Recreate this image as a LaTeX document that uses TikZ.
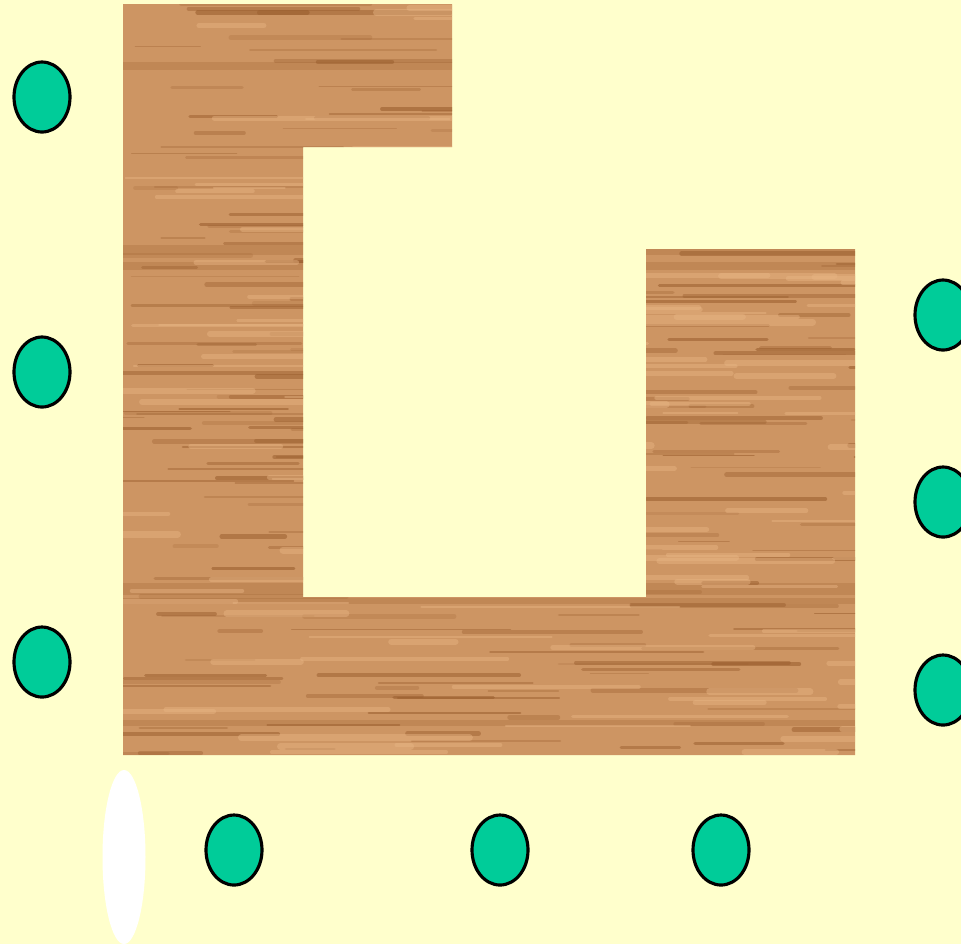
\documentclass[tikz,border=0pt]{standalone}
\definecolor{roomyellow}{HTML}{FFFFCC}
\definecolor{seatgreen}{HTML}{00CC99}
\definecolor{woodbase}{HTML}{CD9563}
\definecolor{wooddark}{HTML}{9A5E2E}
\definecolor{woodlight}{HTML}{E8B584}
\tikzset{
  seat/.style={fill=seatgreen, draw=black, line width=0.9pt},
  grain/.style={line cap=round},
}
\begin{document}
\begin{tikzpicture}[x=0.01cm, y=-0.01cm, line join=round, declare function={rx=28; ry=35;}]
	\fill[roomyellow] (0,0) rectangle (961,944);
	\useasboundingbox (0,0) rectangle (961,944);
	\path (123,4) coordinate (A)
	(452,4) coordinate (B)
	(452,147) coordinate (C)
	(303,147) coordinate (D)
	(303,597) coordinate (E)
	(646,597) coordinate (F)
	(646,249) coordinate (G)
	(855,249) coordinate (H)
	(855,755) coordinate (K)
	(123,755) coordinate (L);
	
	% table top
	\fill[woodbase] (A) -- (B) -- (C) -- (D) -- (E) -- (F) -- (G) -- (H) -- (K) -- (L) -- cycle;
	\begin{scope}
		\clip (A) -- (B) -- (C) -- (D) -- (E) -- (F) -- (G) -- (H) -- (K) -- (L) -- cycle;
		\foreach \by/\bw in {62/8, 245/10, 262/8, 583/12, 598/6, 720/6} {
			\fill[wooddark, opacity=0.25] (123,\by) rectangle (855,\by+\bw);
		}
		\pgfmathsetseed{7}
		\foreach \k in {1,...,260} {
			\pgfmathsetmacro\gy{4+751*rnd}
			\pgfmathsetmacro\gx{80+780*rnd}
			\pgfmathsetmacro\gl{40+180*rnd}
			\pgfmathsetmacro\gw{0.3+1.1*rnd}
			\pgfmathsetmacro\go{0.15+0.45*rnd}
			\draw[grain, wooddark, line width=\gw pt, opacity=\go] (\gx,\gy) -- ++(\gl,0);
		}
		\foreach \k in {1,...,140} {
			\pgfmathsetmacro\gy{4+751*rnd}
			\pgfmathsetmacro\gx{80+780*rnd}
			\pgfmathsetmacro\gl{60+200*rnd}
			\pgfmathsetmacro\gw{0.5+1.5*rnd}
			\draw[grain, woodlight, line width=\gw pt, opacity=0.45] (\gx,\gy) -- ++(\gl,0);
		}
	\end{scope}
	
	% seats
	\path (42,97) coordinate (S1)
	(42,372) coordinate (S2)
	(42,662) coordinate (S3)
	(943,315) coordinate (S4)
	(943,502) coordinate (S5)
	(943,690) coordinate (S6)
	(234,850) coordinate (S7)
	(500,850) coordinate (S8)
	(721,850) coordinate (S9);
	\foreach \u in {S1,S2,S3,S4,S5,S6,S7,S8,S9} {
		\filldraw[seat] (\u) ellipse [x radius=rx, y radius=ry];
	}
	
	\fill[white] (124,857) ellipse [x radius=21.5, y radius=87];
\end{tikzpicture}
\end{document}
